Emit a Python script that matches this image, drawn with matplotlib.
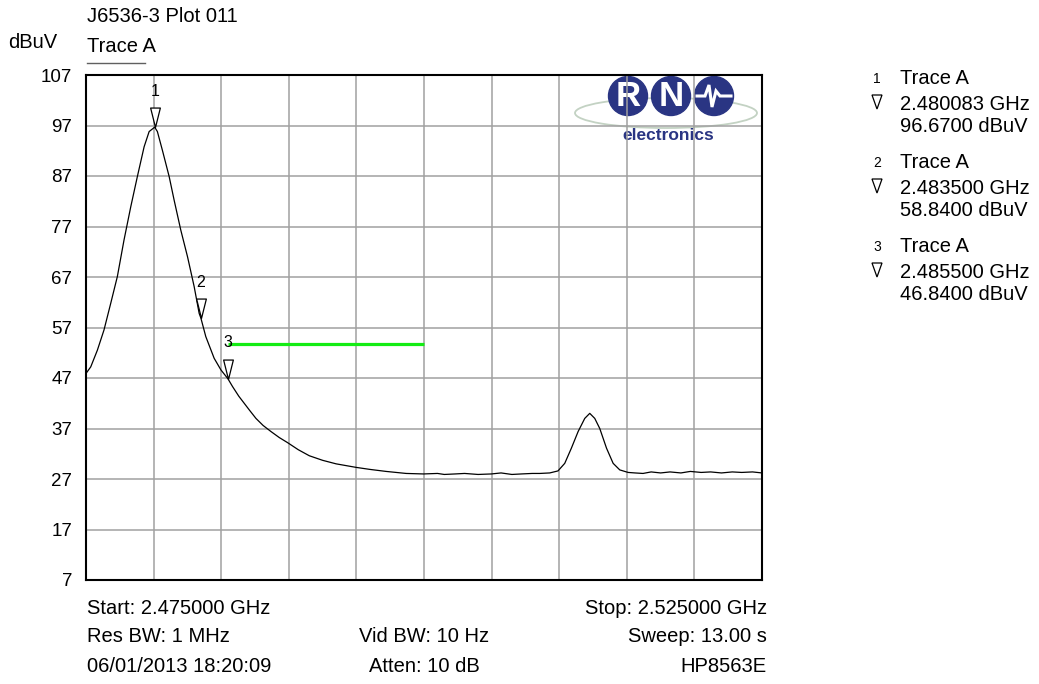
import matplotlib
matplotlib.use("Agg")
import matplotlib.pyplot as plt
from matplotlib.patches import Circle, Ellipse, Polygon
from matplotlib.path import Path

plt.rcParams['font.family'] = ['Liberation Sans', 'DejaVu Sans']

# sweep settings
start_ghz = 2.475
stop_ghz = 2.525
y_ticks = [7, 17, 27, 37, 47, 57, 67, 77, 87, 97, 107]

# trace A (offset from start in MHz, level in dBuV)
trace_offset_mhz = [0.0, 0.35, 0.84, 1.33, 1.83, 2.32, 2.81, 3.31, 3.80, 4.30, 4.67,
                    5.08, 5.28, 5.65, 6.15, 6.52, 7.01, 7.51, 8.0, 8.37, 8.5,
                    8.86, 9.48, 9.98, 10.5, 10.84, 11.3, 11.7, 12.1, 12.57, 13.1,
                    13.68, 14.3, 14.91, 15.7, 16.52, 17.5, 18.5, 19.98, 21.0, 22.2,
                    23.68, 24.96, 26.0, 26.5, 27.3, 28.0, 29.0, 29.98, 30.7, 31.5,
                    32.2, 33.0, 33.56, 34.3, 34.91, 35.41, 35.90, 36.40, 36.89,
                    37.26, 37.63, 38.0, 38.5, 38.99, 39.48, 40.10, 40.6, 41.2, 41.8,
                    42.5, 43.2, 44.0, 44.7, 45.5, 46.2, 47.0, 47.8, 48.5, 49.3, 50.0]
trace_dbuv = [47.9, 49.2, 52.5, 56.5, 61.8, 67.1, 74.3, 80.9, 86.9, 92.8, 95.8,
              96.67, 95.8, 92.1, 86.9, 82.2, 76.3, 71.0, 65.1, 59.8, 58.84,
              55.2, 50.9, 48.6, 46.84, 45.3, 43.4, 42.0, 40.6, 39.0, 37.6,
              36.4, 35.2, 34.2, 32.8, 31.6, 30.7, 30.0, 29.3, 28.9, 28.5,
              28.1, 28.0, 28.1, 27.9, 28.0, 28.1, 27.9, 28.0, 28.2, 27.9,
              28.0, 28.1, 28.1, 28.2, 28.6, 30.1, 33.1, 36.4, 39.0,
              40.0, 39.0, 37.0, 33.1, 30.1, 28.8, 28.3, 28.2, 28.1, 28.4,
              28.2, 28.4, 28.2, 28.5, 28.3, 28.4, 28.2, 28.4, 28.3, 28.4, 28.2]

# markers
marker_ghz = [2.480083, 2.483500, 2.485500]
marker_dbuv = [96.67, 58.84, 46.84]
marker_names = ['1', '2', '3']

# limit line
limit_ghz = [2.4855, 2.5000]
limit_dbuv = [53.7, 53.7]

bottom_left = ['Start: 2.475000 GHz', 'Res BW: 1 MHz', '06/01/2013 18:20:09']
bottom_mid = ['', 'Vid BW: 10 Hz', 'Atten: 10 dB']
bottom_right = ['Stop: 2.525000 GHz', 'Sweep: 13.00 s', 'HP8563E']

W, H = 1039, 684
FS = 14.5
fig = plt.figure(figsize=(W / 100, H / 100), dpi=100)

# overlay in pixel coordinates for the header, logo and side panel
ov = fig.add_axes([0, 0, 1, 1], zorder=0)
ov.set_xlim(0, W)
ov.set_ylim(H, 0)
ov.axis('off')

ax = fig.add_axes([86 / W, 1 - 580 / H, 676 / W, 505 / H], zorder=2)
ax.set_facecolor('none')

trace_ghz = [start_ghz + m / 1000 for m in trace_offset_mhz]
ax.plot(trace_ghz, trace_dbuv, color='black', lw=0.9, zorder=3)
ax.plot(limit_ghz, limit_dbuv, color='#14ec14', lw=2.3, solid_capstyle='butt', zorder=3)

tri = Path([(-0.25, 1), (0.25, 1), (0, 0), (-0.25, 1)],
           [Path.MOVETO, Path.LINETO, Path.LINETO, Path.CLOSEPOLY])
ax.plot(marker_ghz, marker_dbuv, ls='none', marker=tri, markersize=28,
        markerfacecolor='white', markeredgecolor='black', markeredgewidth=0.9, zorder=4)
for f, v, n in zip(marker_ghz, marker_dbuv, marker_names):
    ax.annotate(n, (f, v), xytext=(0, 26), textcoords='offset points',
                ha='center', va='center', fontsize=11.5, zorder=5)

ax.set_xlim(start_ghz, stop_ghz)
ax.set_ylim(7, 107)
ax.set_xticks([start_ghz + i * 0.005 for i in range(11)])
ax.set_xticklabels([])
ax.set_yticks(y_ticks)
ax.set_yticklabels([str(t) for t in y_ticks], fontsize=13.5)
ax.tick_params(length=0, pad=10)
ax.grid(True, color='#a0a0a0', lw=1.1)
ax.set_axisbelow(True)
for s in ax.spines.values():
    s.set_color('black')
    s.set_linewidth(1.5)

# header
ov.text(87, 17, 'J6536-3 Plot 011', fontsize=FS, va='center', ha='left')
ov.text(8, 42, 'dBuV', fontsize=FS, va='center', ha='left')
ov.text(87, 47, 'Trace A', fontsize=FS, va='center', ha='left')
ov.plot([87, 145], [63, 63], color='#606060', lw=1)

# logo
navy = '#2a3583'
ov.add_patch(Ellipse((666, 113), 182, 30, fill=False, edgecolor='#c3d2c3', lw=1.3))
for cx in [628, 671, 714]:
    ov.add_patch(Circle((cx, 96), 19.5, color=navy))
ov.text(628, 97, 'R', color='white', fontsize=25, fontweight='bold', ha='center', va='center')
ov.text(671, 97, 'N', color='white', fontsize=25, fontweight='bold', ha='center', va='center')
ov.plot([697, 705, 709, 712, 716, 720, 731], [96, 96, 85, 107, 91, 96, 96],
        color='white', lw=2.2, solid_joinstyle='miter')
ov.text(668, 135, 'electronics', color=navy, fontsize=12.5, fontweight='bold',
        ha='center', va='center')

# marker readout panel
for i, (f, v, n) in enumerate(zip(marker_ghz, marker_dbuv, marker_names)):
    y0 = 79 + i * 84
    ov.text(877, y0, n, fontsize=10, ha='center', va='center')
    ov.text(900, y0, 'Trace A', fontsize=FS, ha='left', va='center')
    ov.add_patch(Polygon([(872, y0 + 16), (882, y0 + 16), (877, y0 + 30)],
                         closed=True, fill=False, edgecolor='black', lw=0.9))
    ov.text(900, y0 + 25, f'{f:.6f} GHz', fontsize=FS, ha='left', va='center')
    ov.text(900, y0 + 48, f'{v:.4f} dBuV', fontsize=FS, ha='left', va='center')

# footer
for i in range(3):
    y0 = 608 + i * 29
    ov.text(87, y0, bottom_left[i], fontsize=FS, ha='left', va='center')
    ov.text(424, y0, bottom_mid[i], fontsize=FS, ha='center', va='center')
    ov.text(767, y0, bottom_right[i], fontsize=FS, ha='right', va='center')

fig.savefig('out.png', dpi=100)
